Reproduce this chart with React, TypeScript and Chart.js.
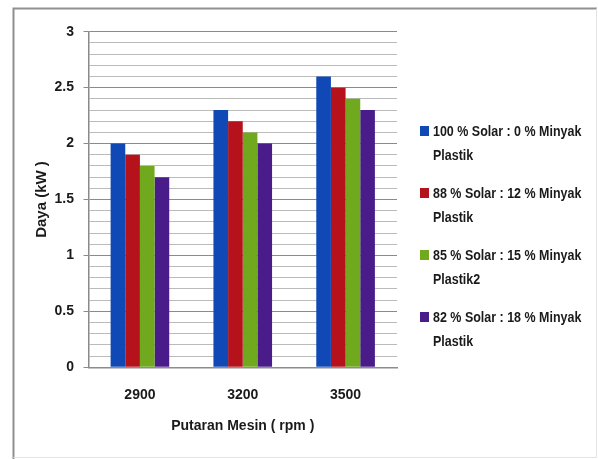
import { useEffect, useRef } from 'react';
import { Chart, registerables } from 'chart.js';

Chart.register(...registerables);

const categories = ['2900', '3200', '3500'];
const solar100 = [2.0, 2.3, 2.6];
const solar88 = [1.9, 2.2, 2.5];
const solar85 = [1.8, 2.1, 2.4];
const solar82 = [1.7, 2.0, 2.3];
const legendLines = [
  ['100 % Solar : 0 % Minyak', 'Plastik'],
  ['88 % Solar : 12 % Minyak', 'Plastik'],
  ['85 % Solar : 15 % Minyak', 'Plastik2'],
  ['82 % Solar : 18 % Minyak', 'Plastik'],
];
const seriesValues = [solar100, solar88, solar85, solar82];
const colors = ['#1049b5', '#b5121b', '#70a81e', '#4a1c8a'];
const yTitle = 'Daya (kW )';
const xTitle = 'Putaran Mesin ( rpm )';
const yMin = 0;
const yMax = 3;
const yMinorStep = 0.1;
const yMajorStep = 0.5;

const W = 598;
const H = 459;
const FONT = "'Liberation Sans', Arial, sans-serif";

const isMajor = (v: number) => Math.abs(v / yMajorStep - Math.round(v / yMajorStep)) < 1e-6;

const framePlugin = {
  id: 'frame',
  beforeDraw(chart: any) {
    const ctx = chart.ctx;
    ctx.save();
    ctx.fillStyle = '#ffffff';
    ctx.fillRect(0, 0, W, H);
    ctx.lineWidth = 2;
    ctx.strokeStyle = '#8f8f8f';
    ctx.beginPath();
    ctx.moveTo(13.5, H);
    ctx.lineTo(13.5, 8.5);
    ctx.lineTo(597, 8.5);
    ctx.stroke();
    ctx.lineWidth = 1;
    ctx.strokeStyle = '#e4e4e4';
    ctx.beginPath();
    ctx.moveTo(596.5, 8.5);
    ctx.lineTo(596.5, 457.5);
    ctx.lineTo(13.5, 457.5);
    ctx.stroke();
    ctx.restore();
  },
};

const legendPlugin = {
  id: 'sideLegend',
  afterDraw(chart: any) {
    const ctx = chart.ctx;
    ctx.save();
    ctx.textBaseline = 'middle';
    ctx.textAlign = 'left';
    chart.data.datasets.forEach((ds: any, i: number) => {
      const y = 132 + i * 62;
      ctx.fillStyle = ds.backgroundColor;
      ctx.fillRect(420, y - 6, 9, 10);
      ctx.fillStyle = '#1a1a1a';
      const lines = legendLines[i];
      lines.forEach((ln, j) => {
        ctx.save();
        ctx.translate(433, y + j * 24);
        ctx.scale(0.86, 1);
        ctx.font = `bold 14.5px ${FONT}`;
        ctx.fillText(ln, 0, 0);
        ctx.restore();
      });
    });
    ctx.restore();
  },
};

export default function App() {
  const ref = useRef<HTMLCanvasElement>(null);
  useEffect(() => {
    if (!ref.current) return;
    const chart = new Chart(ref.current, {
      type: 'bar',
      data: {
        labels: categories,
        datasets: seriesValues.map((vals, i) => ({
          label: legendLines[i].join(' '),
          data: vals,
          backgroundColor: colors[i],
          borderWidth: 0,
          categoryPercentage: 0.57,
          barPercentage: 1.0,
        })),
      },
      options: {
        animation: false,
        responsive: false,
        maintainAspectRatio: false,
        layout: { padding: { top: 31.7, right: 201, left: 0, bottom: 0 } },
        plugins: { legend: { display: false }, tooltip: { enabled: false } },
        scales: {
          x: {
            grid: { display: false, drawTicks: false },
            border: { display: true, color: '#8c8c8c', width: 1.5 },
            ticks: { color: '#1a1a1a', font: { family: FONT, size: 14, weight: 'bold' }, padding: 19 },
            title: {
              display: true,
              text: xTitle,
              color: '#1a1a1a',
              font: { family: FONT, size: 14, weight: 'bold' },
              padding: { top: 0, bottom: 24.6 },
            },
            afterFit(scale: any) {
              scale.height = 91.7;
            },
          },
          y: {
            min: yMin,
            max: yMax,
            grid: {
              color: (c: any) => (c.tick && isMajor(c.tick.value) ? '#8a8a8a' : '#bbbbbb'),
              tickColor: (c: any) => (c.tick && isMajor(c.tick.value) ? '#8a8a8a' : 'rgba(0,0,0,0)'),
              tickLength: 5,
              lineWidth: 1,
            },
            border: { display: true, color: '#8a8a8a', width: 1.5 },
            ticks: {
              stepSize: yMinorStep,
              autoSkip: false,
              padding: 9.5,
              color: '#1a1a1a',
              font: { family: FONT, size: 14, weight: 'bold' },
              callback: (v: any) => (isMajor(Number(v)) ? String(Math.round(Number(v) * 10) / 10) : ''),
            },
            title: {
              display: true,
              text: yTitle,
              color: '#1a1a1a',
              font: { family: FONT, size: 15, weight: 'bold' },
              padding: { top: 33, bottom: 0 },
            },
            afterFit(scale: any) {
              scale.width = 88.5;
            },
          },
        },
      },
      plugins: [framePlugin, legendPlugin],
    } as any);
    return () => chart.destroy();
  }, []);
  return (
    <div style={{ position: 'absolute', left: 0, top: 0, width: W, height: H, background: '#fff' }}>
      <canvas ref={ref} width={W} height={H} style={{ display: 'block', width: W, height: H }} />
    </div>
  );
}
